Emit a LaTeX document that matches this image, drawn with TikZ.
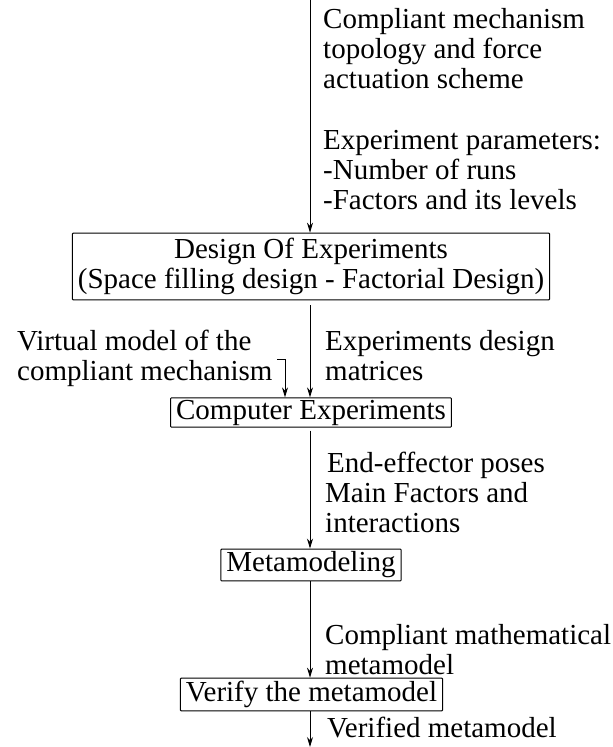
\documentclass[tikz,border=0pt]{standalone}
\usepackage{fontspec}
\setmainfont{Liberation Serif}
\usetikzlibrary{arrows.meta}
\begin{document}
\begin{tikzpicture}[x=1pt,y=-1pt,
  every node/.style={font=\fontsize{29}{30}\selectfont},
  procbox/.style={draw, line width=1pt, rounded corners=0.8pt, inner xsep=5.5pt, inner ysep=2.5pt, align=center},
  oneline/.style={text height=20pt, text depth=6.3pt},
  lbl/.style={inner sep=0pt, anchor=north west, align=left},
  arr/.style={line width=0.9pt, -{Stealth[length=10pt,width=6pt]}}
]
\useasboundingbox (0,0) rectangle (613,747);
\coordinate (top) at (310,0);
\coordinate (bottom) at (310,747);

\node[procbox, inner ysep=5pt] (doe) at (311,266.5) {Design Of Experiments\\(Space filling design - Factorial Design)};
\node[procbox, oneline, inner ysep=1.5pt] (comp) at (311,412.5) {Computer Experiments};
\node[procbox, oneline, inner ysep=2.8pt] (meta) at (311,565) {Metamodeling};
\node[procbox, oneline, inner ysep=3.2pt] (ver) at (311.5,694.5) {Verify the metamodel};

\node[lbl] (l1) at (323,8) {Compliant mechanism\\topology and force\\actuation scheme};
\node[lbl] (l2) at (323,130) {Experiment parameters:\\-Number of runs\\-Factors and its levels};
\node[lbl] (l3) at (17,330) {Virtual model of the\\compliant mechanism};
\node[lbl] (l4) at (325,330) {Experiments design\\matrices};
\node[lbl] (l5) at (327,452) {End-effector poses};
\node[lbl] (l6) at (325,482) {Main Factors and\\interactions};
\node[lbl] (l7) at (325,624) {Compliant mathematical\\metamodel};
\node[lbl] (l8) at (327,717) {Verified metamodel};

\coordinate (vmtip) at (277,359);
\coordinate (bend) at (285,359);

\draw[arr] (top) -- (top |- doe.north);
\draw[arr, shorten <=5pt] (doe.south -| top) -- (top |- comp.north);
\draw[arr] (vmtip) -- (bend) -- (bend |- comp.north);
\draw[arr, shorten <=3pt] (comp.south -| top) -- (top |- meta.north);
\draw[arr] (meta.south -| top) -- (top |- ver.north);
\draw[arr] (ver.south -| top) -- (bottom);
\end{tikzpicture}
\end{document}
